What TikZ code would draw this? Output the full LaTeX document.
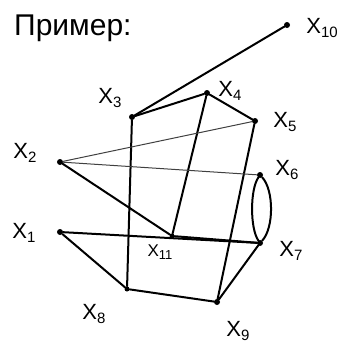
\documentclass[tikz,border=0pt]{standalone}
\usepackage{fontspec}
\setmainfont{Liberation Sans}
\newcommand{\lbl}[2]{X\raisebox{-0.35ex}{\fontsize{#2}{#2}\selectfont #1}}
\begin{document}
\begin{tikzpicture}[x=1pt,y=-1pt,
  pt/.style={circle,fill=black,inner sep=0pt,minimum size=6pt},
  edge/.style={line width=2pt,line cap=round},
  faint/.style={line width=1pt,black!75,line cap=round},
  lab/.style={font=\fontsize{22}{22}\selectfont,inner sep=0pt}]
\useasboundingbox (0,0) rectangle (347,346);
\node[anchor=base west,inner sep=0pt,font=\fontsize{30}{30}\selectfont] (title) at (14,35) {Пример:};
% points
\node[pt] (x10) at (287,25) {};
\node[pt] (x3) at (132,117) {};
\node[pt] (x4) at (207,93) {};
\node[pt] (x5) at (255,121) {};
\node[pt] (x2) at (60,162) {};
\node[pt] (x6) at (260,175) {};
\node[pt] (x1) at (60,232) {};
\node[pt,minimum size=5pt] (x11) at (172,236) {};
\node[pt] (x7) at (260,243) {};
\node[pt,minimum size=5pt] (x8) at (127,289) {};
\node[pt] (x9) at (217,302) {};
% labels
\node[lab] (l10) at (322,28) {\lbl{10}{15}};
\node[lab] (l3) at (110,98) {\lbl{3}{15}};
\node[lab] (l4) at (230,91) {\lbl{4}{15}};
\node[lab] (l5) at (285,122) {\lbl{5}{15}};
\node[lab] (l2) at (25,153) {\lbl{2}{15}};
\node[lab] (l6) at (287,170) {\lbl{6}{15}};
\node[lab] (l1) at (24,233) {\lbl{1}{15}};
\node[lab,font=\fontsize{17}{17}\selectfont] (l11) at (160,252) {\lbl{11}{13}};
\node[lab] (l7) at (291,251) {\lbl{7}{15}};
\node[lab] (l8) at (94,314) {\lbl{8}{15}};
\node[lab] (l9) at (238,331) {\lbl{9}{15}};
% edges
\draw[edge] (x3) -- (x10);
\draw[edge] (x3) -- (x4) -- (x5);
\draw[edge] (x3) -- (x8);
\draw[edge] (x4) -- (x11);
\draw[edge] (x5) -- (x9);
\draw[faint] (x2) -- (x5);
\draw[faint] (x2) -- (x6);
\draw[edge] (x2) -- (x11);
\draw[edge] (x11) -- (x7);
\draw[edge] (x1) -- (x7);
\draw[edge] (x1) -- (x8) -- (x9) -- (x7);
\draw[edge] (x6) .. controls (250,190) and (250,228) .. (x7);
\draw[edge] (x6) .. controls (274,190) and (274,228) .. (x7);
\end{tikzpicture}
\end{document}
